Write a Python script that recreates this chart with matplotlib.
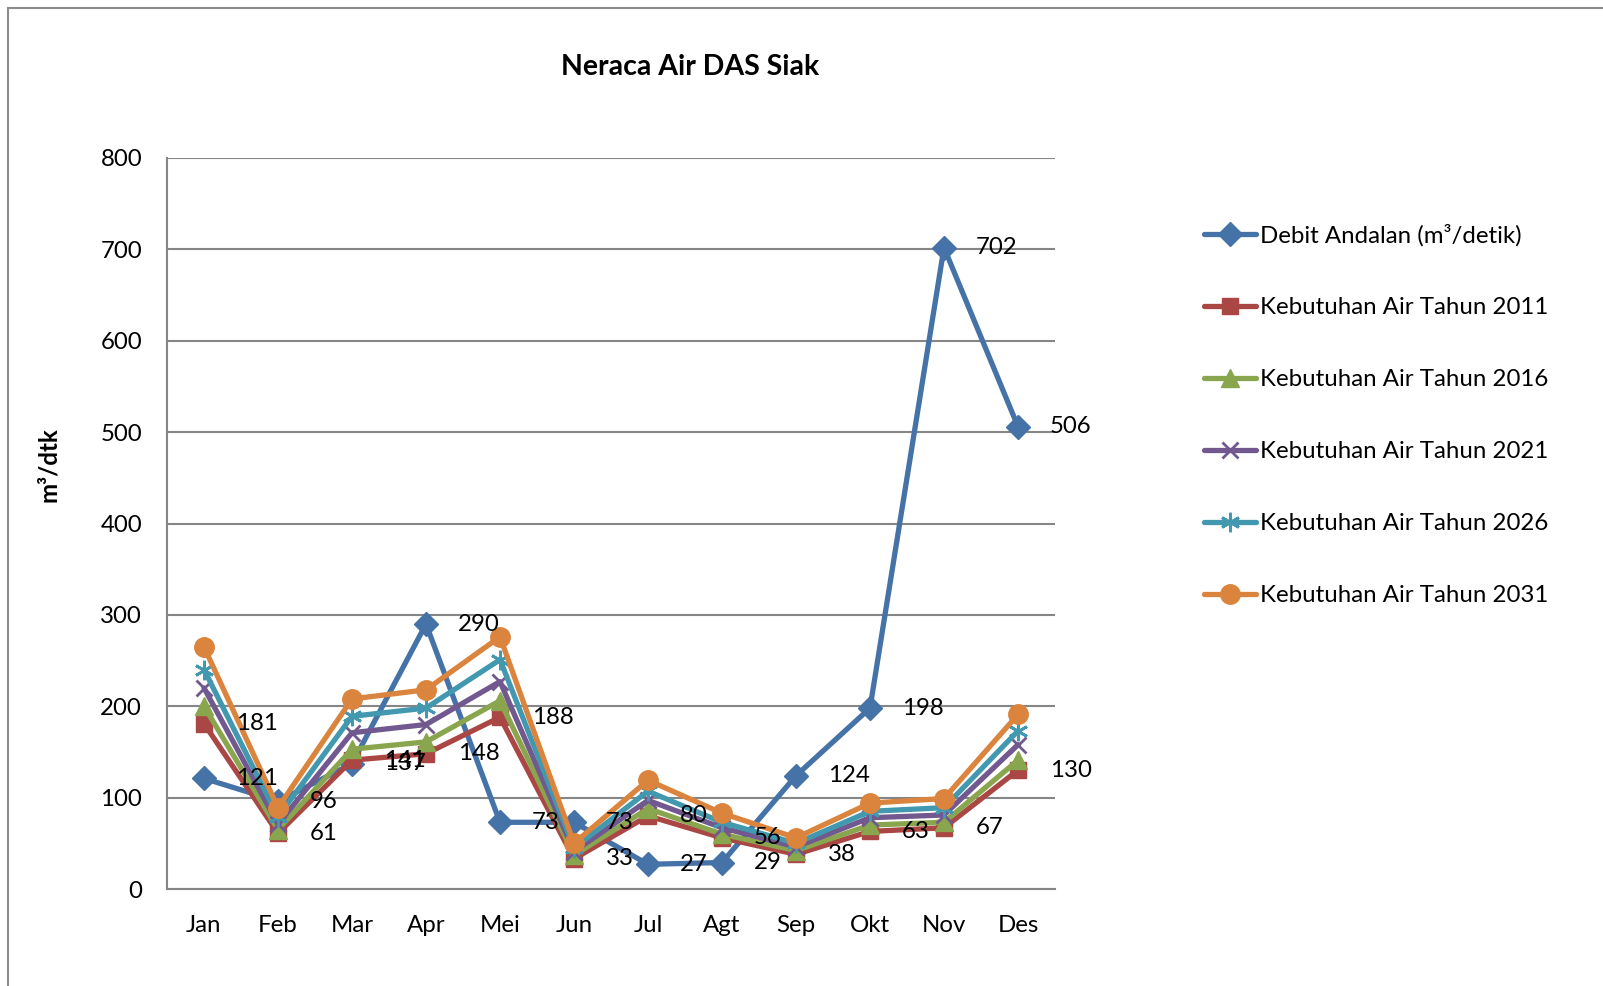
import matplotlib
matplotlib.use('Agg')
import matplotlib.pyplot as plt
from matplotlib.patches import Rectangle

plt.rcParams['font.family'] = ['Lato', 'DejaVu Sans']

months = ['Jan', 'Feb', 'Mar', 'Apr', 'Mei', 'Jun', 'Jul', 'Agt', 'Sep', 'Okt', 'Nov', 'Des']
debit = [121, 96, 137, 290, 73, 73, 27, 29, 124, 198, 702, 506]
keb_2011 = [181, 61, 141, 148, 188, 33, 80, 56, 38, 63, 67, 130]
keb_2016 = [200, 65, 153, 161, 206, 37, 88, 60, 42, 70, 73, 141]
keb_2021 = [220, 71, 171, 180, 227, 41, 97, 67, 46, 78, 81, 158]
keb_2026 = [240, 79, 189, 198, 251, 45, 107, 73, 50, 85, 89, 173]
keb_2031 = [265, 89, 208, 218, 276, 50, 119, 83, 56, 94, 99, 191]

names = ['Debit Andalan (m³/detik)', 'Kebutuhan Air Tahun 2011', 'Kebutuhan Air Tahun 2016',
         'Kebutuhan Air Tahun 2021', 'Kebutuhan Air Tahun 2026', 'Kebutuhan Air Tahun 2031']
colors = ['#4572A7', '#AA4643', '#89A54E', '#71588F', '#4198AF', '#DB843D']
markers = ['D', 's', '^', 'x', (6, 2, 0), 'o']
msizes = [12, 12, 13, 12, 14, 14]
fs = 17.3

fig = plt.figure(figsize=(16.03, 9.86), dpi=100)
ax = fig.add_axes([167/1603, 1 - 889/986, (1055-167)/1603, (889-158)/986])

fig.patches.append(Rectangle((8/1603, -0.1), 1.2, 1 - 8/986 + 0.1, transform=fig.transFigure,
                             fill=False, edgecolor='#8c8c8c', linewidth=1.5))

x = list(range(len(months)))
series = [debit, keb_2011, keb_2016, keb_2021, keb_2026, keb_2031]
handles = []
for i in range(len(series)):
    thin = markers[i] in ('x', (6, 2, 0))
    h, = ax.plot(x, series[i], color=colors[i], linewidth=3.8, marker=markers[i],
                 markersize=msizes[i], markeredgewidth=2 if thin else 1,
                 markeredgecolor=colors[i], label=names[i], zorder=3 + i * 0.01,
                 solid_capstyle='round')
    handles.append(h)

for xi, v in zip(x, debit):
    ax.annotate(str(v), (xi, v), xytext=(23, 0), textcoords='offset points',
                ha='left', va='center', fontsize=fs, zorder=10)
for xi, v in zip(x, keb_2011):
    ax.annotate(str(v), (xi, v), xytext=(23, 0), textcoords='offset points',
                ha='left', va='center', fontsize=fs, zorder=10)

ax.set_xlim(-0.5, 11.5)
ax.set_ylim(0, 800)
ax.set_yticks(range(0, 801, 100))
ax.set_xticks(x)
ax.set_xticklabels(months)
ax.tick_params(axis='both', length=0, labelsize=fs)
ax.tick_params(axis='y', pad=18)
ax.tick_params(axis='x', pad=19)
ax.grid(axis='y', color='#868686', linewidth=1.5)
ax.set_axisbelow(True)
for s in ['top', 'right']:
    ax.spines[s].set_visible(False)
for s in ['left', 'bottom']:
    ax.spines[s].set_color('#868686')
    ax.spines[s].set_linewidth(1.5)

fig.text(690/1603, 1 - 67/986, 'Neraca Air DAS Siak', ha='center', va='center',
         fontsize=20.5, fontweight='bold')
fig.text(48/1603, 1 - 465/986, 'm³/dtk', ha='center', va='center', rotation=90,
         fontsize=fs, fontweight='bold')

leg = fig.legend(handles=handles, loc='upper left', bbox_to_anchor=(1204/1603, 1 - 224/986),
                 frameon=False, fontsize=fs, handlelength=2.15, labelspacing=2.12,
                 handletextpad=0.2, borderpad=0, borderaxespad=0)

fig.savefig('out.png', dpi=100)
